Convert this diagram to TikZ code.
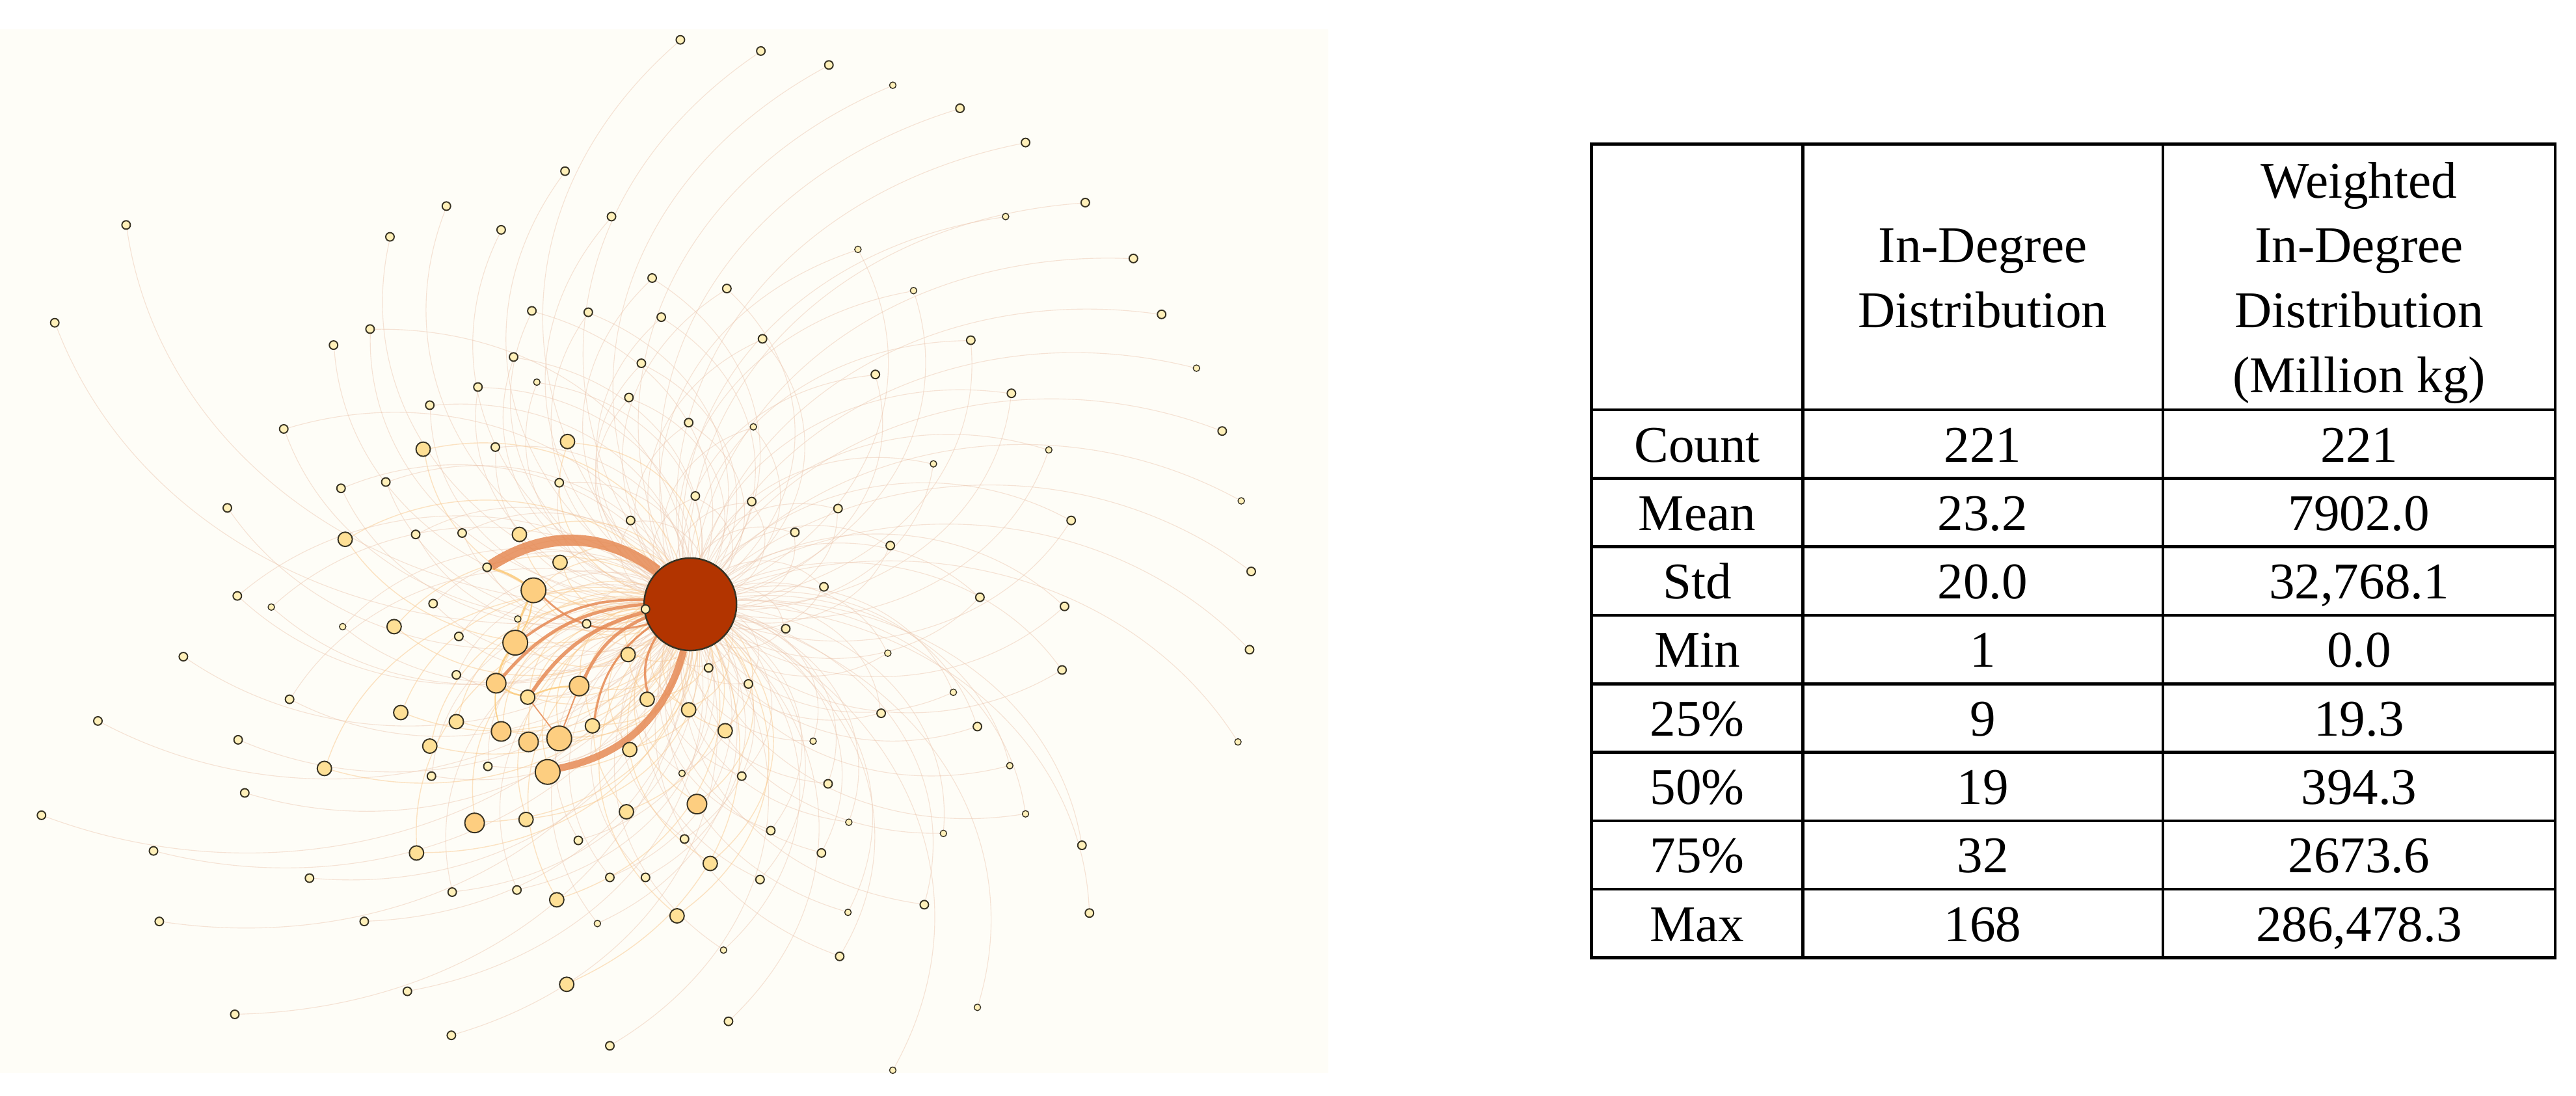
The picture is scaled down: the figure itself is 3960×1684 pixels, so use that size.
\documentclass[tikz,border=0pt]{standalone}
\usepackage{fontspec}
\setmainfont{Liberation Serif}
\pgfdeclarelayer{back}
\pgfdeclarelayer{bg}
\pgfsetlayers{back,bg,main}
\definecolor{cream}{RGB}{254,253,247}
\definecolor{hub}{RGB}{178,52,0}
\definecolor{nfs}{RGB}{255,240,185}
\definecolor{nfm}{RGB}{254,224,150}
\definecolor{nfl}{RGB}{253,206,128}
\definecolor{nline}{RGB}{55,50,35}
\definecolor{ethin}{RGB}{235,195,170}
\definecolor{ewarm}{RGB}{250,200,140}
\definecolor{ethick}{RGB}{230,138,85}
\definecolor{eyel}{RGB}{252,200,115}
\tikzset{
 nd/.style={circle,draw=nline,line width=0.55pt,inner sep=0pt,outer sep=0pt},
 ndt/.style={nd,fill=nfs,minimum size=0.10cm,line width=0.4pt},
 nds/.style={nd,fill=nfs,minimum size=0.13cm},
 ndm/.style={nd,fill=nfm,minimum size=0.22cm},
 ndl/.style={nd,fill=nfl,minimum size=0.30cm},
 ndx/.style={nd,fill=nfl,minimum size=0.38cm},
 ect/.style={draw=ethin,line width=0.32pt,opacity=0.45},
 ecs/.style={ect},
 ecm/.style={draw=ewarm,line width=0.4pt,opacity=0.5},
 ecl/.style={ecm},
 ecx/.style={ecm},
 hvy/.style={draw=ethick,opacity=0.85},
 yel/.style={draw=eyel,opacity=0.8,line width=0.9pt},
 cell/.style={anchor=base,inner sep=0pt,font=\fontsize{22.5}{29}\selectfont},
 tabrule/.style={line width=1.3pt,line cap=rect}
}
\begin{document}
\begin{tikzpicture}[x={(0.01cm,0)},y={(0,-0.01cm)}]
\useasboundingbox (0,0) rectangle (3960,1684);
\begin{pgfonlayer}{back}
 \fill[white] (0,0) rectangle (3960,1684);
 \fill[cream] (0,45) rectangle (2042,1650);
\end{pgfonlayer}
\begin{scope}[xscale=1.2755,yscale=1.074]
 \node[circle,fill=hub,draw=nline,line width=0.7pt,minimum size=1.42cm,inner sep=0pt] (c) at (832,865) {};
 \foreach \i/\x/\y/\s in {1/820/57/s, 2/917/73/s, 3/999/93/s, 4/1076/122/t, 5/1157/155/s, 6/1236/204/s, 7/1308/290/s, 8/1212/310/t, 9/1366/370/s, 10/1400/450/s, 11/1442/527/t, 12/1473/617/s, 13/1496/717/t, 14/1508/818/s, 15/1506/930/s, 16/1492/1062/t, 17/681/245/s, 18/538/295/s, 19/604/329/s, 20/470/339/s, 21/737/310/s, 22/152/322/s, 23/66/462/s, 24/1034/357/t, 25/786/398/s, 26/876/413/s, 27/1101/416/t, 28/641/445/s, 29/709/447/s, 30/797/454/s, 31/446/471/s, 32/402/494/s, 33/919/485/s, 34/1170/487/s, 35/619/511/s, 36/773/520/s, 37/1055/536/s, 38/576/554/s, 39/647/547/t, 40/1219/563/s, 41/758/569/s, 42/518/580/s, 43/830/605/s, 44/908/611/t, 45/342/614/s, 46/510/643/m, 47/597/640/s, 48/684/632/m, 49/1264/644/t, 50/1125/664/t, 51/465/690/s, 52/411/699/s, 53/674/691/s, 54/838/710/s, 55/906/718/s, 56/274/727/s, 57/1010/728/s, 58/1291/745/s, 59/416/772/m, 60/501/765/s, 61/557/763/s, 62/626/765/m, 63/760/745/s, 64/958/762/s, 65/1073/781/s, 66/587/812/s, 67/675/805/m, 68/286/853/s, 69/327/869/t, 70/522/864/s, 71/643/845/x, 72/993/840/s, 73/1181/855/s, 74/1283/868/s, 75/413/897/t, 76/475/897/m, 77/778/872/s, 78/624/886/t, 79/707/893/s, 80/947/900/s, 81/553/911/s, 82/621/920/x, 83/221/940/s, 84/1070/935/t, 85/757/937/m, 86/854/956/s, 87/550/966/s, 88/598/978/l, 89/698/982/l, 90/902/979/s, 91/1280/959/s, 92/636/998/m, 93/1149/991/t, 94/349/1001/s, 95/780/1001/m, 96/830/1016/m, 97/1062/1021/s, 98/483/1020/m, 99/118/1032/s, 100/550/1033/m, 101/1178/1040/s, 102/604/1047/l, 103/714/1039/m, 104/874/1046/m, 105/287/1059/s, 106/637/1062/l, 107/674/1057/x, 108/980/1061/t, 109/518/1068/m, 110/759/1073/m, 111/391/1100/m, 112/588/1097/s, 113/660/1105/x, 114/1217/1096/t, 115/520/1111/s, 116/822/1107/t, 117/894/1111/s, 118/998/1122/s, 119/295/1135/s, 120/50/1167/s, 121/572/1178/l, 122/634/1173/m, 123/755/1162/m, 124/840/1151/l, 125/1236/1165/t, 126/929/1189/s, 127/1023/1177/t, 128/1137/1193/t, 129/697/1203/s, 130/825/1201/s, 131/185/1218/s, 132/502/1221/m, 133/990/1221/s, 134/1304/1210/s, 135/856/1236/m, 136/373/1257/s, 137/735/1256/s, 138/778/1256/s, 139/916/1259/s, 140/545/1277/s, 141/623/1274/s, 142/671/1288/m, 143/1114/1295/s, 144/192/1319/s, 145/439/1319/s, 146/720/1322/t, 147/816/1311/m, 148/1022/1306/t, 149/1313/1307/s, 150/872/1360/t, 151/1012/1369/s, 152/683/1409/m, 153/491/1419/s, 154/283/1452/s, 155/878/1462/s, 156/1178/1442/t, 157/544/1482/s, 158/735/1497/s, 159/1076/1532/t}
 {
  \node[nd\s] (n\i) at (\x,\y) {};
  \pgfmathtruncatemacro\near{veclen(\x-832,\y-865)<560}
  \begin{pgfonlayer}{bg}
   \draw[ec\s] (n\i) to[bend right=42] (c);
   \ifnum\near=1
    \draw[ec\s] (c) to[bend right=42] (n\i);
   \fi
  \end{pgfonlayer}
 }
\end{scope}
\begin{pgfonlayer}{bg}
 \draw[yel] (n66) to[bend left=10] (n71);
 \draw[yel] (n71) to[bend right=8] (n82);
 \draw[yel,line width=0.6pt] (n71) to[bend left=12] (n82);
 \draw[yel] (n82) to[bend right=10] (n88);
 \draw[yel,line width=0.7pt] (n88) to[bend right=10] (n92);
 \draw[yel,line width=0.7pt] (n92) to[bend left=10] (n89);
 \draw[yel,line width=0.5pt] (n88) to[bend right=10] (n102);
 \draw[hvy,line width=0.6pt] (n89) -- (n107);
 \draw[hvy,line width=0.5pt] (n92) -- (n107);
 \draw[hvy,line width=4.8pt] (c) to[bend right=35] (n66);
 \draw[hvy,line width=3.1pt] (n113) to[bend right=32] (c);
 \draw[hvy,line width=1.4pt] (c) to[bend right=22] (n88);
 \draw[hvy,line width=1.1pt] (c) to[bend right=18] (n82);
 \draw[hvy,line width=1.6pt] (c) to[bend right=20] (n92);
 \draw[hvy,line width=1.4pt] (c) to[bend right=20] (n89);
 \draw[hvy,line width=1.0pt] (c) to[bend right=22] (n95);
 \draw[hvy,line width=0.9pt] (c) to[bend right=22] (n103);
 \draw[hvy,line width=0.8pt] (n71) to[bend right=30] (c);
\end{pgfonlayer}
% table
\draw[tabrule] (2446.5,221.5) rectangle (3928,1472.4);
\foreach \xx in {2771.5,3325} \draw[tabrule] (\xx,221.5) -- (\xx,1472.4);
\foreach \yy in {630,735.3,840.6,945.9,1051.2,1156.5,1261.8,1367.1} \draw[tabrule] (2446.5,\yy) -- (3928,\yy);
\node[cell] (h2a) at (3048,403) {In-Degree};
\node[cell] (h2b) at (3048,503) {Distribution};
\node[cell] (h3a) at (3626.5,304) {Weighted};
\node[cell] (h3b) at (3626.5,403) {In-Degree};
\node[cell] (h3c) at (3626.5,503) {Distribution};
\node[cell] (h3d) at (3626.5,603) {(Million kg)};
\foreach \r/\a/\b [count=\k] in {Count/221/221, Mean/23.2/7902.0, Std/20.0/{32,768.1}, Min/1/0.0, 25\%/9/19.3, 50\%/19/394.3, 75\%/32/2673.6, Max/168/{286,478.3}}
{
 \node[cell] (ra\k) at (2609,{710+(\k-1)*105.3}) {\r};
 \node[cell] (rb\k) at (3048,{710+(\k-1)*105.3}) {\a};
 \node[cell] (rc\k) at (3626.5,{710+(\k-1)*105.3}) {\b};
}
\end{tikzpicture}
\end{document}
